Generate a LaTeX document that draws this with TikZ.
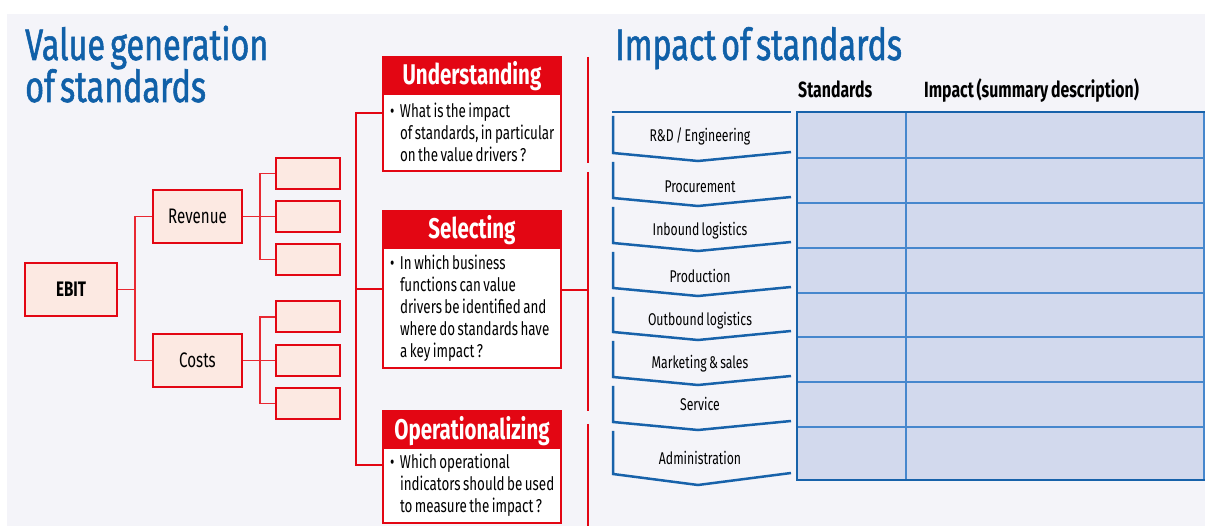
\documentclass[tikz,border=0pt]{standalone}
\usepackage{fontspec}
\setmainfont{Fira Sans}[FakeStretch=0.72, WordSpace=0.7]
\newfontfamily\titlefont{Fira Sans}[FakeStretch=0.735, WordSpace=0.6, FakeBold=1.2]
\definecolor{bg}{RGB}{244,244,249}
\definecolor{ired}{RGB}{227,6,19}
\definecolor{tred}{RGB}{232,40,50}
\definecolor{peach}{RGB}{252,233,226}
\definecolor{tblue}{RGB}{16,96,168}
\definecolor{cblue}{RGB}{23,98,170}
\definecolor{cellfill}{RGB}{210,217,237}
\definecolor{gridblue}{RGB}{70,135,205}
\newcommand{\mybul}{\hspace*{7pt}\makebox[10pt][l]{\textbullet}}
\newcommand{\myind}{\hspace*{17pt}}
\begin{document}
\begin{tikzpicture}[x=1pt,y=-1pt,
  treebox/.style={draw=ired, line width=2pt, fill=peach, inner sep=0pt, font=\fontsize{21}{24}\selectfont},
  leafbox/.style={treebox, minimum width=64pt, minimum height=31pt},
  treeline/.style={draw=tred, line width=1.6pt},
  headbox/.style={fill=ired, draw=ired, line width=2pt, minimum width=178pt, minimum height=36pt, inner sep=0pt, text=white, text height=19pt, text depth=0pt, font=\bfseries\fontsize{28.5}{30}\selectfont},
  bodybox/.style={draw=ired, line width=2pt, fill=white, minimum width=178pt, inner xsep=0pt, inner ysep=0pt, text width=178pt, align=flush left, font=\fontsize{18.6}{22}\selectfont},
  bracket/.style={draw=ired, line width=2.5pt},
  chev/.style={draw=cblue, line width=2.5pt},
  chevtext/.style={anchor=base, inner sep=0pt, font=\fontsize{17}{20}\selectfont},
  title/.style={anchor=base west, inner sep=0pt, text=tblue, font=\titlefont\fontsize{44}{50}\selectfont},
  colhead/.style={anchor=base west, inner sep=0pt, font=\bfseries\fontsize{22}{24}\selectfont},
  grid/.style={draw=gridblue, line width=1.2pt},
  tborder/.style={draw=cblue, line width=2.5pt}
]
\useasboundingbox (0,0) rectangle (1205,526);
\fill[bg] (7,14) rectangle (1205,526);

% titles
\node[title] (t1) at (25,60) {Value generation};
\node[title] (t2) at (25,102) {of standards};
\node[title] (t3) at (615,60) {Impact of standards};

% value tree
\node[treebox, minimum width=92pt, minimum height=53pt, font=\bfseries\fontsize{21}{24}\selectfont] (ebit) at (71,289.5) {EBIT};
\node[treebox, minimum width=89pt, minimum height=53pt] (rev) at (197.5,216.5) {Revenue};
\node[treebox, minimum width=89pt, minimum height=53pt] (cost) at (197.5,360.5) {Costs};
\node[leafbox] (r1) at (308,173.5) {};
\node[leafbox] (r2) at (308,216.5) {};
\node[leafbox] (r3) at (308,259.5) {};
\node[leafbox] (c1) at (308,317) {};
\node[leafbox] (c2) at (308,360.5) {};
\node[leafbox] (c3) at (308,403.5) {};
\coordinate (j1) at (135,289.5);
\coordinate (j2) at (260,216.5);
\coordinate (j3) at (260,360.5);
\draw[treeline] (ebit.east) -- (j1) |- (rev.west);
\draw[treeline] (j1) |- (cost.west);
\draw[treeline] (rev.east) -- (r2.west);
\draw[treeline] (j2) |- (r1.west);
\draw[treeline] (j2) |- (r3.west);
\draw[treeline] (cost.east) -- (c2.west);
\draw[treeline] (j3) |- (c1.west);
\draw[treeline] (j3) |- (c3.west);

% middle boxes
\node[bodybox, minimum height=77pt, anchor=north] (ub) at (472,93) {\mybul What is the impact\\\myind of standards, in particular\\\myind on the value drivers ?};
\node[headbox] (uh) at (472,75) {Understanding};
\node[bodybox, minimum height=120pt, anchor=north] (sb) at (472,247) {\mybul In which business\\\myind functions can value\\\myind drivers be identified and\\\myind where do standards have\\\myind a key impact ?};
\node[headbox] (sh) at (472,229.5) {Selecting};
\node[bodybox, minimum height=75pt, anchor=north] (ob) at (472,447) {\mybul Which operational\\\myind indicators should be used\\\myind to measure the impact ?};
\node[headbox] (oh) at (472,429.5) {Operationalizing};

\coordinate (k1) at (356,113);
\coordinate (k2) at (356,289);
\coordinate (k3) at (356,465);
\draw[bracket] (ub.west |- k1) -- (k1) -- (k3) -- (ob.west |- k3);
\draw[bracket] (k2) -- (sb.west |- k2);

% right red separators
\coordinate (s1) at (588,57);
\coordinate (s2) at (588,163);
\coordinate (s3) at (588,172);
\coordinate (s4) at (588,411);
\coordinate (s5) at (588,424);
\coordinate (s6) at (588,526);
\coordinate (s7) at (588,290);
\draw[bracket] (s1) -- (s2);
\draw[bracket] (s3) -- (s4);
\draw[bracket] (s5) -- (s6);
\draw[bracket] (sb.east |- s7) -- (s7);

% table
\fill[cellfill] (797,112) rectangle (1205,480);
\foreach \yy in {158,203,248,293,337,382,427} \draw[grid] (797,\yy) -- (1205,\yy);
\draw[grid] (906,112) -- (906,480);
\draw[grid] (1204,112) -- (1204,480);
\draw[tborder] (1205,112) -- (797,112) -- (797,480) -- (1205,480);
\node[colhead] (h1) at (798,98) {Standards};
\node[colhead] (h2) at (924,98) {Impact (summary description)};

% chevrons
\draw[chev] (612,112) -- (791,112);
\foreach \tt/\bb/\tp in {112/158/3,158/203/3,203/248/3,248/293/3,293/337/3,337/382/3,382/427/3,427/479/6}
  \draw[chev] (613,\tt+4) -- (613,\bb-5) -- (698,\bb+\tp) -- (791,\bb-6);
\node[chevtext] (p1) at (700,141.7) {R\&D / Engineering};
\node[chevtext] (p2) at (700,192.7) {Procurement};
\node[chevtext] (p3) at (700,236) {Inbound logistics};
\node[chevtext] (p4) at (700,282.7) {Production};
\node[chevtext] (p5) at (700,326) {Outbound logistics};
\node[chevtext] (p6) at (700,369) {Marketing \& sales};
\node[chevtext] (p7) at (700,410.7) {Service};
\node[chevtext] (p8) at (700,464.3) {Administration};
\end{tikzpicture}
\end{document}
